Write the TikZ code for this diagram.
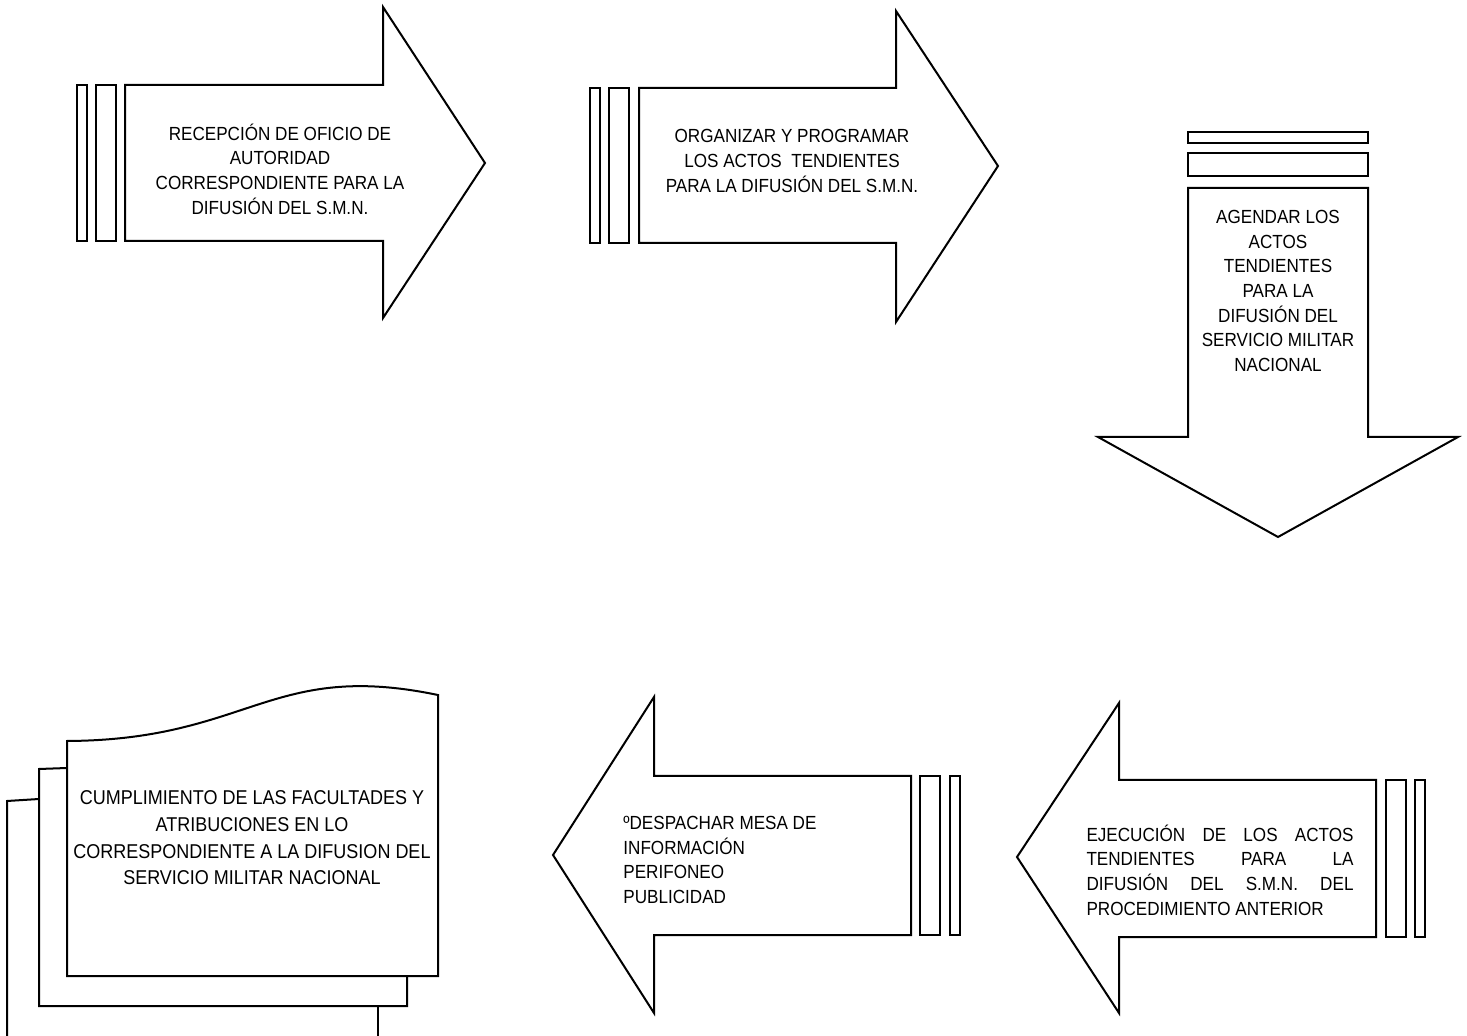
\documentclass[tikz,border=0pt]{standalone}
\usepackage{fontspec}
\setmainfont{Liberation Sans}[FakeStretch=0.9]

\begin{document}
\begin{tikzpicture}[x=0.5pt, y=-0.5pt, shp/.style = {draw, line width=1pt}, lbl/.style = {font=\fontsize{9.5}{12.3}\selectfont, align=center, inner sep=0pt}]
        \useasboundingbox (0,0) rectangle (1467,1036);
        % first arrow
        \draw[shp] (77,85) rectangle (87,241);
        \draw[shp] (96,85) rectangle (116,241);
        \draw[shp] (125,85) -- (383,85) -- (383,7) -- (485,163) -- (383,318) -- (383,241) -- (125,241) -- cycle;
        \node[lbl] (recepcion) at (280,169) {RECEPCIÓN DE OFICIO DE\\AUTORIDAD\\CORRESPONDIENTE PARA LA\\DIFUSIÓN DEL S.M.N.};
        % second arrow
        \draw[shp] (590,88) rectangle (600,243);
        \draw[shp] (609,88) rectangle (629,243);
        \draw[shp] (639,88) -- (896,88) -- (896,11) -- (998,166) -- (896,322) -- (896,243) -- (639,243) -- cycle;
        \node[lbl] (organizar) at (792,161) {ORGANIZAR Y PROGRAMAR\\LOS ACTOS\ \ TENDIENTES\\PARA LA DIFUSIÓN DEL S.M.N.};
        % down arrow
        \draw[shp] (1188,132) rectangle (1368,143);
        \draw[shp] (1188,153) rectangle (1368,176);
        \draw[shp] (1188,188) -- (1368,188) -- (1368,437) -- (1458,437) -- (1278,537) -- (1098,437) -- (1188,437) -- cycle;
        \node[lbl] (agendar) at (1278,291) {AGENDAR LOS\\ACTOS\\TENDIENTES\\PARA LA\\DIFUSIÓN DEL\\SERVICIO MILITAR\\NACIONAL};
        % arrow at bottom right
        \draw[shp] (1386,780) rectangle (1406,937);
        \draw[shp] (1415,780) rectangle (1425,937);
        \draw[shp] (1376,780) -- (1119,780) -- (1119,703) -- (1017,857) -- (1119,1013) -- (1119,937) -- (1376,937) -- cycle;
        \node[lbl, align=justify, text width=133.5pt] (ejecucion) at (1220,870) {EJECUCIÓN DE LOS ACTOS\linebreak TENDIENTES PARA LA\linebreak DIFUSIÓN DEL S.M.N. DEL\linebreak PROCEDIMIENTO ANTERIOR};
        % arrow at bottom middle
        \draw[shp] (920,776) rectangle (940,935);
        \draw[shp] (950,776) rectangle (960,935);
        \draw[shp] (911,776) -- (654,776) -- (654,697) -- (553,855) -- (654,1013) -- (654,935) -- (911,935) -- cycle;
        \node[lbl, align=left, anchor=west] (despachar) at (623,860) {ºDESPACHAR MESA DE\\INFORMACIÓN\\PERIFONEO\\PUBLICIDAD};
        % multidocument
        \draw[shp] (7,1036) -- (7,801) -- (39,799);
        \draw[shp] (378,1006) -- (378,1036);
        \draw[shp] (67,768) -- (39,769) -- (39,1006) -- (407,1006) -- (407,976);
        \draw[shp] (67,741) .. controls (250,740) and (270,660) .. (438,695) -- (438,976) -- (67,976) -- cycle;
        \node[lbl, font=\fontsize{10}{13.3}\selectfont] (cumplimiento) at (252,838) {CUMPLIMIENTO DE LAS FACULTADES Y\\ATRIBUCIONES EN LO\\CORRESPONDIENTE A LA DIFUSION DEL\\SERVICIO MILITAR NACIONAL};
\end{tikzpicture}
\end{document}
